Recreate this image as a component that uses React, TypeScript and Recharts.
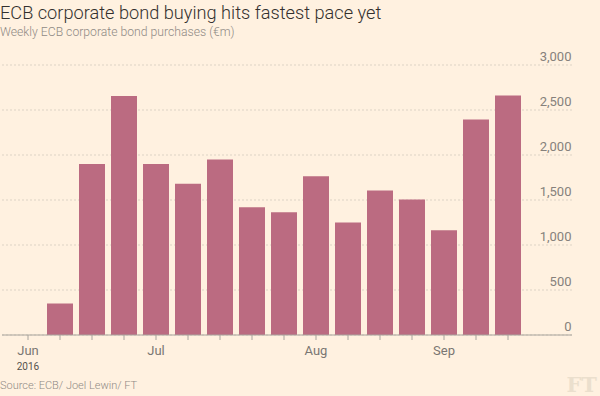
import React from 'react';
import { BarChart, Bar, XAxis, YAxis, CartesianGrid } from 'recharts';

const weeks = ['3 Jun', '10 Jun', '17 Jun', '24 Jun', '1 Jul', '8 Jul', '15 Jul', '22 Jul', '29 Jul', '5 Aug', '12 Aug', '19 Aug', '26 Aug', '2 Sep', '9 Sep', '16 Sep'];
const purchases = [null, 350, 1900, 2655, 1900, 1680, 1950, 1420, 1365, 1765, 1250, 1605, 1505, 1165, 2395, 2660];
const monthLabels: Record<string, string> = { '3 Jun': 'Jun', '1 Jul': 'Jul', '5 Aug': 'Aug', '2 Sep': 'Sep' };
const yearLabel = '2016';
const yearLabelWeek = '3 Jun';
const yTicks = [0, 500, 1000, 1500, 2000, 2500, 3000];

const title = 'ECB corporate bond buying hits fastest pace yet';
const subtitle = 'Weekly ECB corporate bond purchases (€m)';
const source = 'Source: ECB/ Joel Lewin/ FT';

const data = weeks.map((w, i) => ({ week: w, value: purchases[i] }));

const FONT = 'Roboto, "Noto Sans", sans-serif';

const XTick = (props: any) => {
  const { x, y, payload } = props;
  const label = monthLabels[payload.value];
  if (!label) return null;
  return (
    <g>
      <text x={x} y={y} dy={13} textAnchor="middle" fontFamily={FONT} fontSize={13} fill="#7a7672">
        {label}
      </text>
      {payload.value === yearLabelWeek && (
        <text x={x} y={y} dy={27.5} textAnchor="middle" fontFamily={FONT} fontSize={10} fill="#55514d">
          {yearLabel}
        </text>
      )}
    </g>
  );
};

const YTick = (props: any) => {
  const { x, y, payload } = props;
  return (
    <text x={x - 0.5} y={y - 4} textAnchor="end" fontFamily={FONT} fontSize={13} fill="#86817c">
      {Number(payload.value).toLocaleString('en-US')}
    </text>
  );
};

export default function App() {
  return (
    <div style={{ position: 'absolute', left: 0, top: 0, width: 600, height: 396, background: '#fff1e0', overflow: 'hidden' }}>
      <div style={{ position: 'absolute', left: 0, top: 0, fontFamily: FONT, fontWeight: 300, fontSize: 18.2, color: '#33302e', lineHeight: '26px', whiteSpace: 'nowrap' }}>
        {title}
      </div>
      <div style={{ position: 'absolute', left: 0, top: 23, fontFamily: FONT, fontWeight: 300, fontSize: 12.2, color: '#8f8a85', lineHeight: '18px', whiteSpace: 'nowrap' }}>
        {subtitle}
      </div>
      <div style={{ position: 'absolute', left: 0, top: 0 }}>
        <BarChart width={600} height={396} data={data} margin={{ top: 65, right: 0, left: 2, bottom: 0 }}>
          <CartesianGrid vertical={false} stroke="#ddd3c5" strokeDasharray="2 2" />
          <XAxis
            dataKey="week"
            height={61}
            interval={0}
            padding={{ left: 10, right: 48 }}
            tickSize={5}
            axisLine={{ stroke: '#a8a49d' }}
            tickLine={{ stroke: '#a8a49d' }}
            tick={<XTick />}
          />
          <YAxis
            orientation="right"
            width={28}
            domain={[0, 3000]}
            ticks={yTicks}
            axisLine={false}
            tickLine={false}
            tickSize={0}
            tickMargin={0}
            tick={<YTick />}
          />
          <Bar dataKey="value" fill="#bb6b81" barSize={26} isAnimationActive={false} />
        </BarChart>
      </div>
      <div style={{ position: 'absolute', left: 0, top: 378, fontFamily: FONT, fontWeight: 300, fontSize: 11, color: '#8f8a85', lineHeight: '16px', whiteSpace: 'nowrap' }}>
        {source}
      </div>
      <div style={{ position: 'absolute', right: 3, top: 374, fontFamily: 'Georgia, "DejaVu Serif", "Liberation Serif", serif', fontWeight: 700, fontSize: 21, color: '#ebdfcd', lineHeight: '22px' }}>
        FT
      </div>
    </div>
  );
}
